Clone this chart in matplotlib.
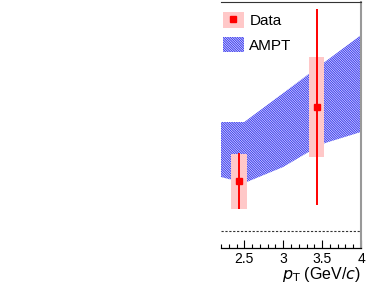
import matplotlib
matplotlib.use("Agg")
import matplotlib.pyplot as plt
from matplotlib.patches import Patch, Rectangle
from matplotlib.lines import Line2D
from matplotlib.legend_handler import HandlerTuple
from matplotlib.ticker import MultipleLocator, FixedLocator
import numpy as np

plt.rcParams['font.family'] = ['Liberation Sans', 'DejaVu Sans']
plt.rcParams['hatch.linewidth'] = 0.8

# Data points
data_pt = [2.43, 3.43]
data_val = [0.050, 0.124]
data_stat = [0.028, 0.098]
data_syst = [0.0275, 0.050]
syst_halfwidth = [0.10, 0.10]

# AMPT band
ampt_pt = [2.2, 2.5, 3.0, 3.5, 4.0]
ampt_low = [0.054, 0.048, 0.064, 0.087, 0.099]
ampt_high = [0.109, 0.109, 0.138, 0.167, 0.196]

xtick_vals = [2.5, 3.0, 3.5, 4.0]
xtick_labels = ["2.5", "3", "3.5", "4"]

HATCH = '\\' * 14
BLUE = '#4040f0'

fig = plt.figure(figsize=(3.66, 2.86), dpi=100)
ax = fig.add_axes([221/366, 1-248/286, 140/366, 246/286])

band = ax.fill_between(ampt_pt, ampt_low, ampt_high, facecolor='none',
                       edgecolor=BLUE, hatch=HATCH, linewidth=0)

for x, y, sy, hw in zip(data_pt, data_val, data_syst, syst_halfwidth):
    ax.add_patch(Rectangle((x - hw, y - sy), 2 * hw, 2 * sy,
                           facecolor='#ffc8c8', edgecolor='none', zorder=3))
ax.errorbar(data_pt, data_val, yerr=data_stat, fmt='s', color='red',
            markersize=4.5, elinewidth=1.4, capsize=0, zorder=4)

ax.axhline(0, color='#333333', linestyle=(0, (2, 1.5)), linewidth=0.8)

ax.set_xlim(2.2, 4.0)
ax.set_ylim(-0.017, 0.229)

ax.spines['left'].set_visible(False)
ax.spines['top'].set_color('#333333')
ax.spines['right'].set_color('#999999')
ax.spines['right'].set_linewidth(1.5)
ax.spines['bottom'].set_linewidth(0.9)
ax.set_yticks([])
ax.xaxis.set_major_locator(FixedLocator(xtick_vals))
ax.set_xticklabels(xtick_labels)
ax.xaxis.set_minor_locator(MultipleLocator(0.1))
ax.tick_params(axis='x', which='major', direction='in', length=6, width=0.8,
               labelsize=10, pad=3)
ax.tick_params(axis='x', which='minor', direction='in', length=3, width=0.8)

ax.set_xlabel(r"$p_{\mathrm{T}}$ (GeV/$c$)", fontsize=11.5, loc='right', labelpad=-1)

h_data = (Patch(facecolor='#ffc8c8', edgecolor='none'),
          Line2D([], [], marker='s', color='red', linestyle='none', markersize=4.5))
h_ampt = Patch(facecolor='none', edgecolor=BLUE, hatch=HATCH, linewidth=0)
leg = ax.legend([h_data, h_ampt], ["Data", "AMPT"],
                handler_map={tuple: HandlerTuple(ndivide=1, pad=0)},
                loc='upper left', bbox_to_anchor=(0.0, 0.965), frameon=False,
                fontsize=11, handlelength=1.4, handleheight=1.2,
                handletextpad=0.35, labelspacing=0.55, borderaxespad=0,
                borderpad=0.1)

fig.savefig("out.png", dpi=100)
